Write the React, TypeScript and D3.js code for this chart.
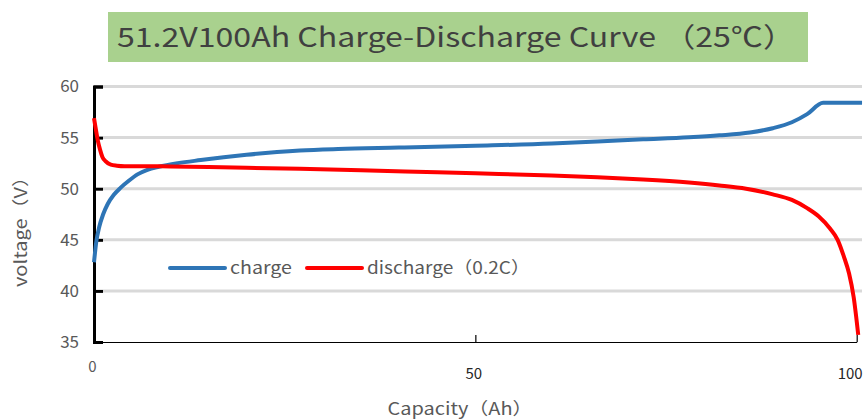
import { FC, useRef, useEffect } from 'react'
import * as d3 from 'd3'

// charge curve (blue), capacity in Ah / voltage in V
const chargeAh = [0, 0.3, 0.7, 1.2, 1.8, 2.6, 3.5, 4.6, 5.7, 7, 8.5, 11, 14, 17, 20, 24, 27, 32, 40, 50, 60, 66, 72, 78, 82, 86, 89, 91.5, 93.5, 95.6, 100.7]
const chargeV = [42.8, 44.8, 46.3, 47.5, 48.5, 49.4, 50.1, 50.8, 51.4, 51.85, 52.15, 52.5, 52.8, 53.08, 53.32, 53.58, 53.73, 53.88, 54.02, 54.2, 54.42, 54.63, 54.83, 55.03, 55.22, 55.5, 55.92, 56.5, 57.3, 58.4, 58.4]

// discharge curve (red, 0.2C)
const dischargeAh = [0, 0.2, 0.5, 0.8, 1.1, 1.5, 2.2, 3, 4, 6, 10, 15, 20, 27, 35, 45, 50, 60, 66, 72, 78, 82, 85.5, 89, 91.5, 93.5, 95, 96.5, 97.5, 98.3, 99, 99.6, 100.2]
const dischargeV = [56.9, 56.0, 54.7, 53.8, 53.1, 52.7, 52.35, 52.25, 52.2, 52.2, 52.18, 52.12, 52.05, 51.95, 51.8, 51.6, 51.5, 51.3, 51.12, 50.9, 50.6, 50.32, 50.0, 49.45, 48.9, 48.1, 47.3, 46.1, 45.0, 43.4, 41.7, 39.4, 35.7]

const yTicks = [35, 40, 45, 50, 55, 60]
const xTicks = [0, 50, 100]

const title = '51.2V100Ah Charge-Discharge Curve （25℃）'
const xTitle = 'Capacity（Ah）'
const yTitle = 'voltage（V）'
const seriesNames = ['charge', 'discharge（0.2C）']

const FONT = "'Noto Sans CJK SC', 'Noto Sans', sans-serif"

const App: FC = () => {
  const svgRef = useRef<SVGSVGElement>(null)

  useEffect(() => {
    if (!svgRef.current) return
    const svg = d3.select(svgRef.current)
    svg.selectAll('*').remove()

    const x = d3.scaleLinear().domain([0, 100]).range([94, 856.7])
    const y = d3.scaleLinear().domain([35, 60]).range([342, 86.5])

    // title box
    svg.append('rect')
      .attr('x', 108).attr('y', 12).attr('width', 700).attr('height', 50)
      .attr('fill', '#a9d18e')
    svg.append('text')
      .attr('x', 117).attr('y', 47)
      .attr('font-family', FONT).attr('font-size', 27)
      .attr('fill', '#404040')
      .attr('textLength', 678).attr('lengthAdjust', 'spacingAndGlyphs')
      .text(title)

    // gridlines
    svg.append('g')
      .selectAll('line')
      .data(yTicks.filter(t => t > 35))
      .join('line')
      .attr('x1', 103).attr('x2', 862)
      .attr('y1', d => y(d)).attr('y2', d => y(d))
      .attr('stroke', '#d9d9d9').attr('stroke-width', 3)

    // y axis
    const gy = svg.append('g')
      .attr('transform', `translate(${x(0)},0)`)
      .call(d3.axisLeft(y).tickValues(yTicks).tickSizeInner(-9).tickSizeOuter(-9).tickPadding(15))
    gy.select('.domain').attr('stroke', '#000').attr('stroke-width', 3)
    gy.selectAll('.tick line').attr('stroke', '#000').attr('stroke-width', 3)
    gy.selectAll('.tick text')
      .attr('font-family', FONT).attr('font-size', 17).attr('fill', '#595959')

    // x axis
    const gx = svg.append('g')
      .attr('transform', `translate(0,${y(35)})`)
      .call(d3.axisBottom(x).tickValues(xTicks).tickSizeInner(-7).tickSizeOuter(0).tickPadding(26))
    gx.select('.domain').attr('stroke', '#000').attr('stroke-width', 1.2)
    gx.selectAll('.tick line').attr('stroke', '#000').attr('stroke-width', 1.2)
      .filter((d: any) => d === 0).remove()
    const xt = gx.selectAll('.tick text')
      .attr('font-family', FONT).attr('font-size', 15).attr('fill', '#262626')
    xt.filter((d: any) => d === 0)
      .attr('y', 19).attr('fill', '#595959')
    xt.filter((d: any) => d === 0 || d === 50).attr('dx', -2)
    xt.filter((d: any) => d === 100).attr('dx', -7)

    // curves
    const line = d3.line<[number, number]>()
      .x(d => x(d[0]))
      .y(d => y(d[1]))
      .curve(d3.curveMonotoneX)

    const charge = chargeAh.map((c, i) => [c, chargeV[i]] as [number, number])
    const discharge = dischargeAh.map((c, i) => [c, dischargeV[i]] as [number, number])

    svg.append('path')
      .attr('d', line(charge) as string)
      .attr('fill', 'none').attr('stroke', '#2e75b6').attr('stroke-width', 4)
      .attr('stroke-linejoin', 'round')
    svg.append('path')
      .attr('d', line(discharge) as string)
      .attr('fill', 'none').attr('stroke', '#ff0000').attr('stroke-width', 4)
      .attr('stroke-linejoin', 'round')

    // legend
    const legend = [
      { name: seriesNames[0], color: '#2e75b6', x0: 170, w: 62 },
      { name: seriesNames[1], color: '#ff0000', x0: 307, w: 163 },
    ]
    const lg = svg.append('g')
    legend.forEach(l => {
      lg.append('line')
        .attr('x1', l.x0).attr('x2', l.x0 + 55)
        .attr('y1', 268).attr('y2', 268)
        .attr('stroke', l.color).attr('stroke-width', 4).attr('stroke-linecap', 'round')
      lg.append('text')
        .attr('x', l.x0 + 60).attr('y', 274)
        .attr('font-family', FONT).attr('font-size', 17).attr('fill', '#595959')
        .attr('textLength', l.w).attr('lengthAdjust', 'spacingAndGlyphs')
        .text(l.name)
    })

    // axis titles
    svg.append('text')
      .attr('x', 460).attr('y', 415)
      .attr('text-anchor', 'middle')
      .attr('font-family', FONT).attr('font-size', 17).attr('fill', '#595959')
      .attr('textLength', 145).attr('lengthAdjust', 'spacingAndGlyphs')
      .text(xTitle)
    svg.append('text')
      .attr('transform', 'translate(27,227) rotate(-90)')
      .attr('text-anchor', 'middle')
      .attr('font-family', FONT).attr('font-size', 17).attr('fill', '#595959')
      .attr('textLength', 120).attr('lengthAdjust', 'spacingAndGlyphs')
      .text(yTitle)
  }, [])

  return (
    <svg ref={svgRef} width={868} height={420}
      style={{ position: 'absolute', left: 0, top: 0, background: '#fff' }} />
  )
}

export default App
